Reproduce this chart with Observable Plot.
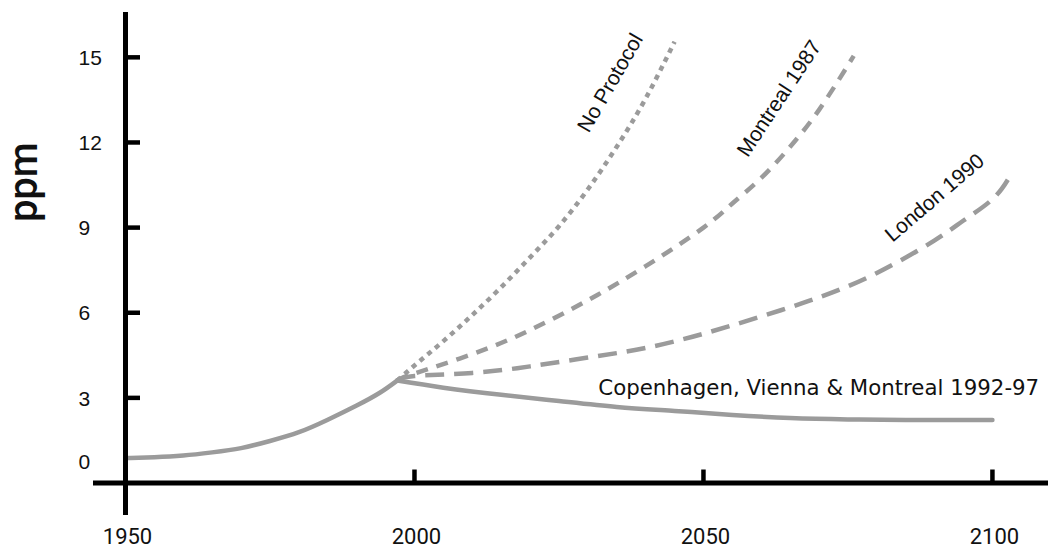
<!DOCTYPE html>
<html>
<head>
<meta charset="utf-8">
<script src="https://cdn.jsdelivr.net/npm/d3@7"></script>
<script src="https://cdn.jsdelivr.net/npm/@observablehq/plot@0.6"></script>
<style>
  html, body { margin: 0; padding: 0; background: #ffffff; overflow: hidden; }
  #chart svg { display: block; }
</style>
</head>
<body>
<div id="chart"></div>
<script>
// ---- Data ----
const historyYears  = [1950, 1955, 1960, 1965, 1970, 1975, 1980, 1985, 1990, 1994, 1997];
const historyValues = [0.88, 0.91, 0.97, 1.08, 1.23, 1.48, 1.79, 2.23, 2.73, 3.18, 3.61];

const noProtocolYears  = [1997, 2000, 2005, 2010, 2015, 2020, 2025, 2030, 2035, 2040, 2045];
const noProtocolValues = [3.61, 4.14, 5.00, 5.92, 6.90, 7.95, 9.05, 10.35, 11.85, 13.55, 15.55];

const montrealYears  = [1997, 2000, 2010, 2020, 2030, 2040, 2050, 2055, 2060, 2065, 2070, 2076];
const montrealValues = [3.61, 3.86, 4.54, 5.39, 6.44, 7.64, 9.00, 9.85, 10.75, 11.85, 13.15, 15.05];

const londonYears  = [1997, 2000, 2010, 2020, 2030, 2040, 2050, 2060, 2070, 2080, 2090, 2095, 2100, 2103];
const londonValues = [3.61, 3.77, 3.88, 4.11, 4.42, 4.76, 5.26, 5.87, 6.54, 7.40, 8.55, 9.25, 10.00, 10.80];

const copenhagenYears  = [1997, 2005, 2015, 2025, 2035, 2045, 2055, 2065, 2075, 2085, 2100];
const copenhagenValues = [3.61, 3.36, 3.11, 2.89, 2.68, 2.54, 2.40, 2.29, 2.24, 2.22, 2.22];

const seriesNames = ["No Protocol", "Montreal 1987", "London 1990", "Copenhagen, Vienna & Montreal 1992-97"];

const xTicks = [1950, 2000, 2050, 2100];
const yTicks = [0, 3, 6, 9, 12, 15];
const yTitle = "ppm";

// label anchor points (in data units) next to each curve
const labelYears  = [2033.9, 2063.1, 2090.0, 2031.8];
const labelValues = [14.1, 13.55, 10.05, 3.33];

// ---- Build tables ----
const toRows = (years, values) => years.map((year, i) => ({year, value: values[i]}));
const history    = toRows(historyYears, historyValues);
const noProtocol = toRows(noProtocolYears, noProtocolValues);
const montreal   = toRows(montrealYears, montrealValues);
const london     = toRows(londonYears, londonValues);
const copenhagen = toRows(copenhagenYears, copenhagenValues);
const labels = seriesNames.map((name, i) => ({name, year: labelYears[i], value: labelValues[i]}));

const grey = "#9b9b9b";
const lineW = 4.5;
const curve = "natural";

const chart = Plot.plot({
  width: 1050,
  height: 550,
  marginLeft: 125,
  marginRight: 2,
  marginTop: 12,
  marginBottom: 35,
  x: {domain: [1950, 2109.7], axis: null},
  y: {domain: [-1.145, 16.58], axis: null},
  marks: [
    // curves
    Plot.line(london, {x: "year", y: "value", stroke: grey, strokeWidth: lineW, strokeDasharray: "19,10", strokeLinecap: "butt", curve}),
    Plot.line(montreal, {x: "year", y: "value", stroke: grey, strokeWidth: lineW, strokeDasharray: "12,9", strokeLinecap: "butt", curve}),
    Plot.line(noProtocol, {x: "year", y: "value", stroke: grey, strokeWidth: lineW, strokeDasharray: "5,5", strokeLinecap: "butt", curve}),
    Plot.line(copenhagen, {x: "year", y: "value", stroke: grey, strokeWidth: lineW, curve}),
    Plot.line(history, {x: "year", y: "value", stroke: grey, strokeWidth: lineW, curve}),

    // axis lines
    Plot.ruleY([0], {stroke: "black", strokeWidth: 5, insetLeft: -32}),
    Plot.ruleX([xTicks[0]], {stroke: "black", strokeWidth: 5}),
    // y ticks (to the right of the axis)
    Plot.ruleY(yTicks.filter(d => d > 0), {y: d => d, x1: xTicks[0], x2: xTicks[0], insetRight: -15, stroke: "black", strokeWidth: 4.5}),
    // x ticks (upward from the axis)
    Plot.ruleX(xTicks.slice(1), {x: d => d, y1: 0, y2: 0, insetTop: -13, stroke: "black", strokeWidth: 4.5}),

    // y tick labels
    Plot.text(yTicks.filter(d => d > 0), {x: xTicks[0], y: d => d, text: d => String(d), textAnchor: "start", dx: -47, dy: 1, fontSize: 21, fontFamily: "Liberation Sans", fill: "#111"}),
    Plot.text(yTicks.filter(d => d === 0), {x: xTicks[0], y: d => d, text: d => String(d), textAnchor: "start", dx: -47, dy: -21, fontSize: 21, fontFamily: "Liberation Sans", fill: "#111"}),
    // x tick labels
    Plot.text(xTicks, {x: d => d, y: 0, text: d => String(d), textAnchor: "middle", dx: 2, dy: 54, fontSize: 22, fontFamily: "Roboto", fill: "#111"}),
    // y title
    Plot.text([yTitle], {x: xTicks[0], y: 10.6, text: d => d, rotate: -90, textAnchor: "middle", dx: -101, fontSize: 40, fontWeight: 500, fontFamily: "Roboto", fill: "#111"}),

    // series labels
    Plot.text([labels[0]], {x: "year", y: "value", text: "name", rotate: -60, textAnchor: "middle", fontSize: 21, fontFamily: "Liberation Sans", fill: "#111"}),
    Plot.text([labels[1]], {x: "year", y: "value", text: "name", rotate: -56.5, textAnchor: "middle", fontSize: 21, fontFamily: "Liberation Sans", fill: "#111"}),
    Plot.text([labels[2]], {x: "year", y: "value", text: "name", rotate: -40.5, textAnchor: "middle", fontSize: 21, fontFamily: "Liberation Sans", fill: "#111"}),
    Plot.text([labels[3]], {x: "year", y: "value", text: "name", textAnchor: "start", fontSize: 21.3, fontFamily: "DejaVu Sans", fill: "#111"})
  ]
});

document.getElementById("chart").appendChild(chart);
</script>
</body>
</html>
